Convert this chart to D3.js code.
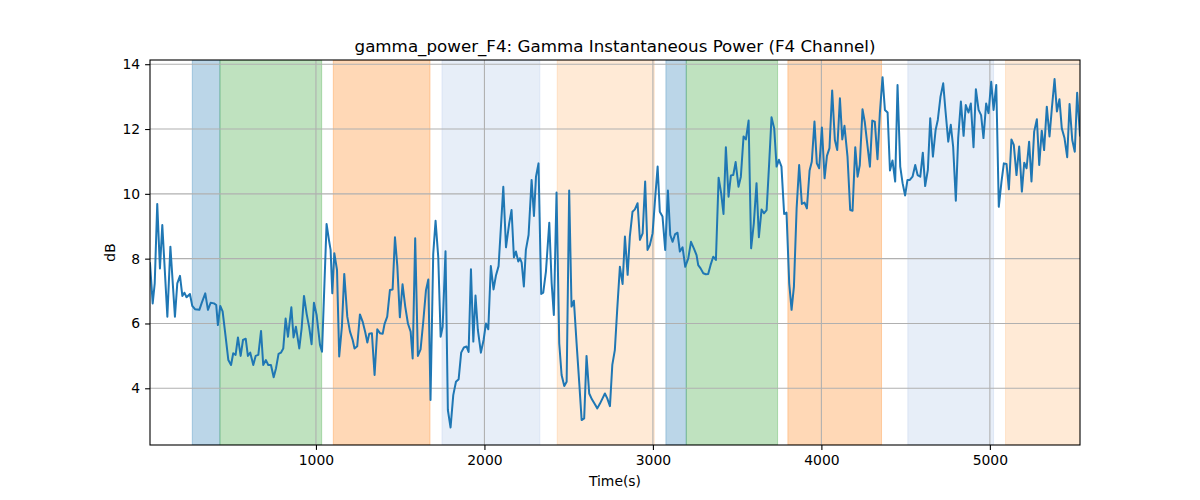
<!DOCTYPE html>
<html>
<head>
<meta charset="utf-8">
<script src="https://cdn.jsdelivr.net/npm/d3@7"></script>
<style>
  body { margin: 0; background: #fff; }
  svg { display: block; font-family: "DejaVu Sans", sans-serif; }
</style>
</head>
<body>
<svg id="chart" width="1200" height="500"></svg>
<script>
const title = "gamma_power_F4: Gamma Instantaneous Power (F4 Channel)";
const xLabel = "Time(s)";
const yLabel = "dB";
const xTicks = [1000, 2000, 3000, 4000, 5000];
const yTicks = [4, 6, 8, 10, 12, 14];
const xDomain = [15, 5535];
const yDomain = [2.25, 14.13];

// shaded intervals: [start, end, colour key]
const spanStarts = [266, 430, 1103, 1748, 2432, 3077, 3198, 3801, 4513, 5093];
const spanEnds   = [430, 1034, 1677, 2329, 3008, 3198, 3740, 4357, 5022, 5540];
const spanKinds  = ["blue", "green", "orange", "lightblue", "lightorange", "blue", "green", "orange", "lightblue", "lightorange"];
const spanColors = { blue: "#1f77b4", green: "#2ca02c", orange: "#ff7f0e", lightblue: "#aec7e8", lightorange: "#ffbb78" };

const times = [15,31,43,58,74,88,118,136,163,177,193,207,219,232,252,266,282,308,321,343,359,375,395,408,418,432,446,464,480,496,509,523,537,553,567,583,596,610,628,642,658,674,687,703,717,733,749,763,778,792,806,820,834,854,867,881,901,915,929,945,960,974,988,1004,1024,1036,
1063,1077,1087,1097,1109,1125,1138,1154,1168,1186,1202,1218,1229,1245,1261,1277,1293,1305,1316,1332,1348,1364,1380,1396,1407,1423,1439,1455,1469,1483,1498,1514,1530,1546,1562,1574,1589,1605,1621,1637,1653,1667,1680,1696,1710,1726,1740,1752,1769,1783,1799,1815,1831,1847,1862,1878,1894,1906,1920,1934,1947,1961,1979,1995,2009,2023,2038,2054,2068,2084,2098,2112,2128,2147,2161,2175,2187,2201,2211,2221,2234,2246,2262,2280,2294,2306,2321,2337,2349,2365,2385,2399,2412,2428,2444,2458,2474,2488,2503,2517,2531,2547,2563,2577,2592,2606,2622,2638,2654,2670,2685,2701,2715,2729,2745,2759,2774,2788,2804,2820,2834,2850,2863,2879,2893,2909,2923,2939,2954,2968,2982,2998,3014,3028,3041,3057,3073,3089,3103,3117,3132,3146,3160,3176,3192,3210,3226,3243,3259,3269,3283,3299,3314,3328,3342,3358,3374,3390,3405,3419,3433,3449,3463,3477,3491,3508,3522,3538,3552,3568,3583,3599,3615,3629,3645,3659,3675,3690,3704,3720,3734,3748,3763,3779,3793,3809,3823,3837,3853,3868,3884,3900,3914,3930,3943,3959,3973,3987,4003,4019,4033,4048,4064,4080,4094,4110,4124,4137,4155,4171,4185,4201,4215,4228,4244,4258,4272,4288,4302,4317,4333,4347,4363,4377,4393,4407,4422,4438,4452,4468,4482,4497,4511,4525,4541,4557,4571,4587,4602,4616,4632,4646,4662,4678,4691,4707,4723,4737,4753,4768,4782,4798,4812,4828,4844,4857,4873,4887,4903,4917,4933,4948,4962,4978,4992,5008,5022,5038,5053,5069,5083,5099,5113,5128,5142,5158,5174,5190,5204,5218,5233,5247,5263,5279,5293,5308,5322,5338,5354,5368,5384,5398,5413,5427,5443,5459,5473,5489,5504,5518,5535];

const power = [7.86,6.62,7.24,9.69,7.7,9.04,6.21,8.37,6.21,7.24,7.47,6.85,6.95,6.81,6.91,6.54,6.44,6.42,6.62,6.93,6.42,6.64,6.62,6.57,5.95,6.54,6.37,5.59,4.87,4.72,5.08,5.03,5.57,5.0,5.49,5.53,5.0,5.1,4.72,5.0,5.03,5.77,4.72,4.87,4.72,4.72,4.34,4.62,5.06,5.1,5.23,6.15,5.59,6.5,5.57,5.9,5.23,5.85,6.85,6.29,5.88,5.36,6.64,6.26,5.34,5.13,
9.07,8.58,8.27,6.93,8.17,7.65,4.98,5.9,7.53,6.21,5.75,5.49,5.23,5.3,6.28,6.06,5.72,5.41,5.68,5.7,4.41,5.82,5.7,5.68,5.98,6.21,7.03,7.05,8.66,7.77,6.19,7.21,6.52,6.0,5.75,4.92,8.63,5.0,5.2,6.06,7.03,7.36,3.64,8.14,9.17,8.04,5.59,5.9,8.23,3.33,2.79,3.79,4.2,4.28,5.1,5.26,5.29,5.12,7.67,5.44,6.86,5.8,5.1,5.49,6.0,5.82,7.77,7.05,7.47,7.77,8.99,10.22,8.35,9.09,9.5,8.04,8.22,7.91,8.01,7.88,7.14,8.27,8.73,10.43,9.32,10.53,10.94,6.91,6.95,7.6,9.11,7.24,6.26,10.04,5.39,4.41,4.07,4.2,10.1,6.52,6.7,5.39,4.15,3.02,3.07,5.0,3.84,3.66,3.52,3.38,3.52,3.69,3.84,3.69,3.45,4.72,5.18,6.42,7.75,7.22,8.68,7.5,8.68,9.45,9.52,9.71,8.58,8.78,10.38,8.27,8.42,8.78,9.91,10.84,9.45,9.3,8.27,10.1,8.73,8.52,8.76,8.8,8.22,8.35,7.75,8.01,8.52,8.32,8.11,7.8,7.7,7.55,7.52,7.53,7.8,8.06,7.96,10.5,10.02,9.38,11.44,9.91,10.57,10.58,10.98,10.22,10.53,11.77,11.68,12.26,8.32,9.09,10.33,8.66,9.52,9.4,9.5,10.94,12.36,12.02,10.84,11.05,10.84,9.38,9.42,7.24,6.42,7.14,9.55,10.89,9.69,9.73,9.55,10.72,10.99,12.23,10.94,10.79,12.05,10.48,11.17,11.41,13.19,11.66,11.35,12.95,11.68,12.1,11.15,9.5,9.48,11.44,10.53,10.89,12.61,12.2,11.56,10.84,12.26,12.23,11.07,12.49,13.6,12.59,12.51,10.72,11.03,10.38,13.36,10.84,10.33,9.95,10.43,10.43,10.53,10.89,10.58,10.53,11.27,10.24,10.74,12.33,11.15,11.97,12.28,13.0,13.41,12.54,11.61,12.13,11.46,9.79,11.72,12.85,11.79,12.74,12.51,12.79,11.44,13.23,12.59,12.43,11.72,12.79,12.49,13.46,12.59,13.36,9.6,10.38,10.94,10.92,10.14,11.68,11.51,10.58,11.46,10.07,10.96,10.79,11.61,10.38,11.92,12.3,10.89,11.95,11.35,12.69,11.77,12.64,13.54,12.54,12.92,12.02,11.72,11.13,12.77,11.66,11.3,13.12,11.8];

const margin = { left: 150, right: 120, top: 60, bottom: 55 };
const W = 1200, H = 500;
const svg = d3.select("#chart");
const x = d3.scaleLinear().domain(xDomain).range([margin.left, W - margin.right]);
const y = d3.scaleLinear().domain(yDomain).range([H - margin.bottom, margin.top]);

svg.append("defs").append("clipPath").attr("id", "clip")
  .append("rect").attr("x", margin.left).attr("y", margin.top)
  .attr("width", W - margin.left - margin.right).attr("height", H - margin.top - margin.bottom);

// spans
const spans = spanStarts.map((s, i) => ({ s, e: spanEnds[i], k: spanKinds[i] }));
svg.append("g").attr("clip-path", "url(#clip)").selectAll("rect").data(spans).join("rect")
  .attr("x", d => x(d.s)).attr("width", d => x(d.e) - x(d.s))
  .attr("y", margin.top).attr("height", H - margin.top - margin.bottom)
  .attr("fill", d => spanColors[d.k]).attr("fill-opacity", 0.3)
  .attr("stroke", d => spanColors[d.k]).attr("stroke-opacity", 0.3).attr("stroke-width", 1);

// grid
const grid = svg.append("g");
grid.selectAll(".gx").data(xTicks).join("line")
  .attr("x1", d => x(d)).attr("x2", d => x(d))
  .attr("y1", margin.top).attr("y2", H - margin.bottom)
  .attr("stroke", "#b0b0b0").attr("stroke-width", 1.1);
grid.selectAll(".gy").data(yTicks).join("line")
  .attr("x1", margin.left).attr("x2", W - margin.right)
  .attr("y1", d => y(d)).attr("y2", d => y(d))
  .attr("stroke", "#b0b0b0").attr("stroke-width", 1.1);

// line
svg.append("path").attr("clip-path", "url(#clip)")
  .datum(times.map((t, i) => [t, power[i]]))
  .attr("fill", "none").attr("stroke", "#1f77b4").attr("stroke-width", 2)
  .attr("stroke-linejoin", "round").attr("stroke-linecap", "square")
  .attr("d", d3.line().x(d => x(d[0])).y(d => y(d[1])));

// axes
const xAxis = svg.append("g").attr("transform", `translate(0,${H - margin.bottom})`)
  .call(d3.axisBottom(x).tickValues(xTicks).tickSize(4.9).tickPadding(4.9).tickFormat(d3.format("d")));
const yAxis = svg.append("g").attr("transform", `translate(${margin.left},0)`)
  .call(d3.axisLeft(y).tickValues(yTicks).tickSize(4.9).tickPadding(4.9).tickFormat(d3.format("d")));
[xAxis, yAxis].forEach(a => {
  a.select(".domain").remove();
  a.selectAll("line").attr("stroke", "#000").attr("stroke-width", 1.1);
  a.selectAll("text").attr("font-size", 13.9).attr("fill", "#000").attr("font-family", "DejaVu Sans, sans-serif");
});

// frame
svg.append("rect").attr("x", margin.left).attr("y", margin.top)
  .attr("width", W - margin.left - margin.right).attr("height", H - margin.top - margin.bottom)
  .attr("fill", "none").attr("stroke", "#000").attr("stroke-width", 1.1);

// labels
svg.append("text").attr("x", (margin.left + W - margin.right) / 2).attr("y", 52)
  .attr("text-anchor", "middle").attr("font-size", 16.7).text(title);
svg.append("text").attr("x", (margin.left + W - margin.right) / 2).attr("y", 486)
  .attr("text-anchor", "middle").attr("font-size", 13.9).text(xLabel);
svg.append("text").attr("transform", `translate(115,${(margin.top + H - margin.bottom) / 2}) rotate(-90)`)
  .attr("text-anchor", "middle").attr("font-size", 13.9).text(yLabel);
</script>
</body>
</html>
